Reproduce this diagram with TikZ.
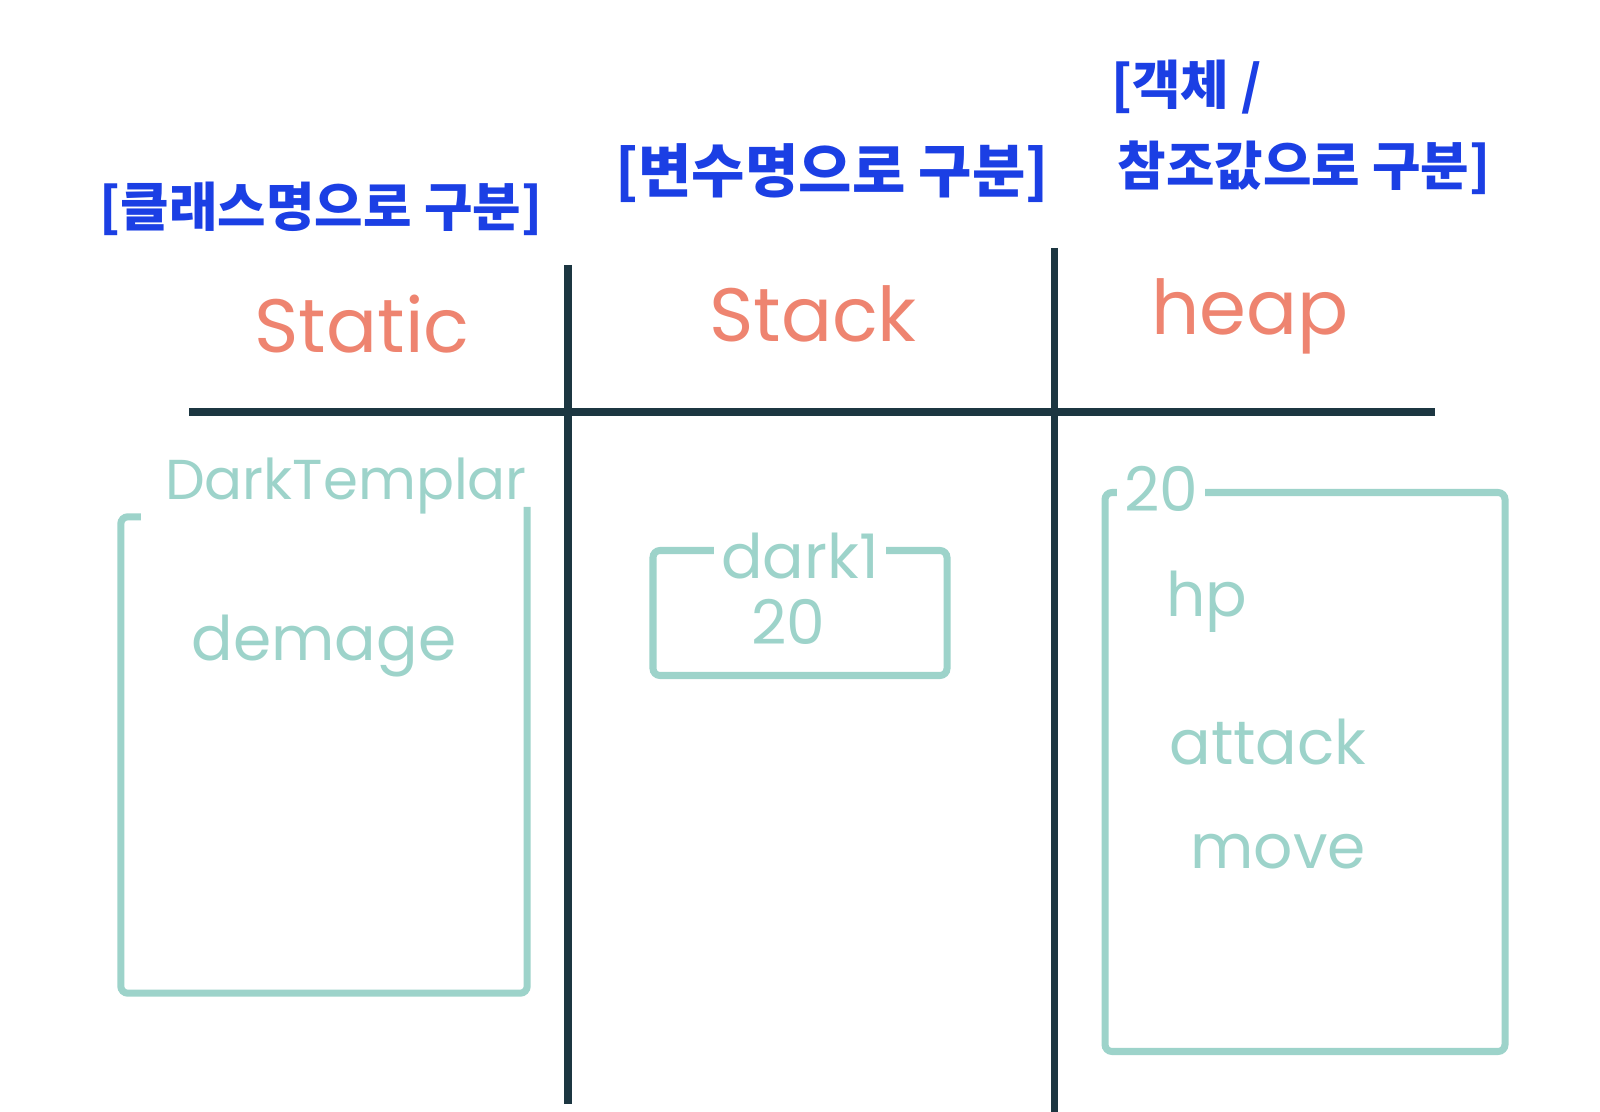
\documentclass[tikz,border=0pt]{standalone}
\usepackage{fontspec}
\setmainfont{Poppins}
\newfontfamily\kor{Noto Sans CJK KR}
\usepackage{xcolor}
\usetikzlibrary{positioning,calc}

\definecolor{hdblue}{HTML}{1B3FE4}
\definecolor{areared}{HTML}{EE8470}
\definecolor{memteal}{HTML}{9DD3CA}
\definecolor{inkdark}{HTML}{1C3641}

\begin{document}
\begin{tikzpicture}[font=\fontsize{17.5}{20}\selectfont,
  hd/.style={text=hdblue,font=\kor\fontsize{15}{18}\selectfont\bfseries,inner sep=1pt},
  area/.style={text=areared,font=\fontsize{21.5}{24}\selectfont,inner sep=1pt},
  mem/.style={draw=memteal,line width=2pt,rounded corners=2pt},
  lbl/.style={text=memteal,fill=white,inner sep=2pt},
  fld/.style={text=memteal,inner sep=1pt},
  sep/.style={draw=inkdark,line width=2pt}]
\useasboundingbox (0,0) rectangle (16,-11.12);
% headings
\node[hd] (hdStatic) at (3.21,-2.09) {[클래스명으로 구분]};
\node[hd,font=\kor\fontsize{16.5}{18}\selectfont\bfseries] (hdStack) at (8.32,-1.73) {[변수명으로 구분]};
\node[hd,anchor=west] (hdHeapA) at (11.07,-0.87) {[객체 /};
\node[hd] (hdHeapB) at (13.04,-1.68) {참조값으로 구분]};
% areas
\node[area] (static) at (3.62,-3.24) {Static};
\node[area] (stack) at (8.13,-3.14) {Stack};
\node[area] (heap) at (12.50,-3.16) {heap};
% table lines
\coordinate (hL) at (1.89,-4.12);
\coordinate (hR) at (14.35,-4.12);
\draw[sep] (hL) -- (hR);
\draw[sep] (5.68,-2.65) -- (5.68,-11.04);
\draw[sep] (10.54,-2.48) -- (10.54,-11.12);
% static area
\node[minimum width=4.05cm,minimum height=4.75cm] (sbox) at (3.24,-7.55) {};
\draw[mem] ($(sbox.north west)+(0.2,0)$) -- (sbox.north west) -- (sbox.south west)
  -- (sbox.south east) -- ($(sbox.north east)+(0,0.1)$);
\node[fld,font=\fontsize{16}{18}\selectfont] (sname) at (3.46,-4.86) {DarkTemplar};
\node[fld] (demage) at (3.24,-6.46) {demage};
% stack area
\node[mem,minimum width=2.94cm,minimum height=1.25cm] (kbox) at (8.00,-6.13) {};
\node[lbl,above=-4mm of kbox.north] (kname) {dark1};
\node[fld] (kval) at (7.88,-6.22) {20};
% heap area
\node[mem,minimum width=4.0cm,minimum height=5.59cm] (hbox) at (13.05,-7.72) {};
\node[lbl,right=1.5mm of hbox.north west,anchor=west] (href) {20};
\node[fld] (hp) at (12.07,-6.02) {hp};
\node[fld] (attack) at (12.68,-7.42) {attack};
\node[fld] (move) at (12.78,-8.52) {move};
\end{tikzpicture}
\end{document}
